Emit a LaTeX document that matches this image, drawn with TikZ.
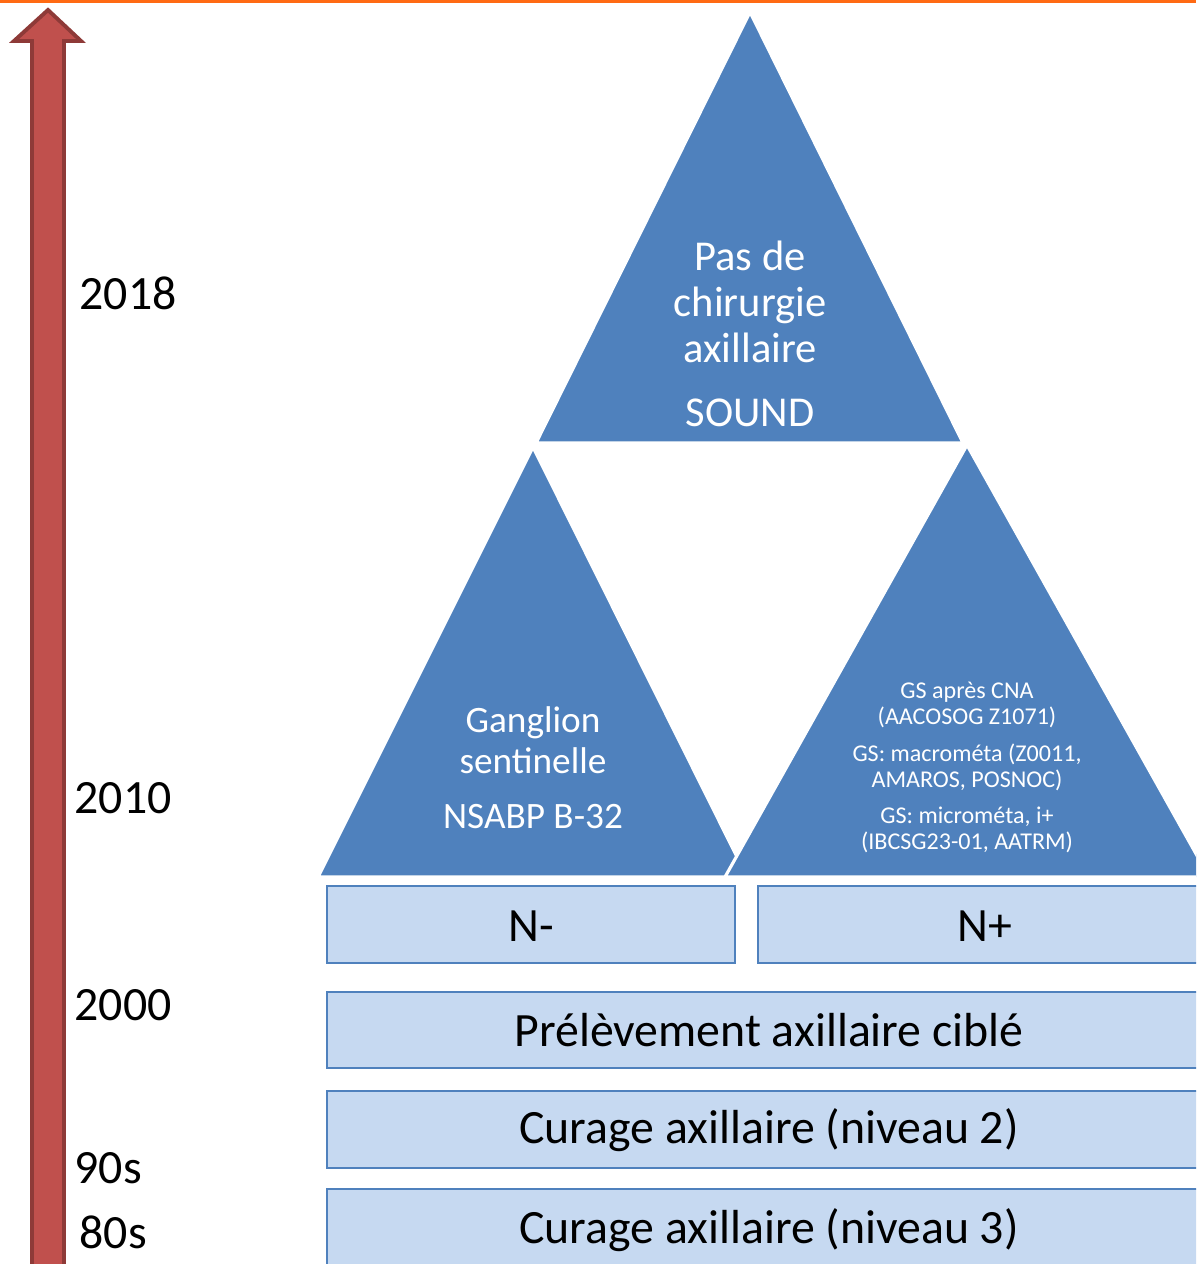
\documentclass[tikz,border=0pt]{standalone}
\usepackage{fontspec}
\setmainfont{Carlito}
\usetikzlibrary{positioning}
\definecolor{triblue}{HTML}{4F81BD}
\definecolor{boxfill}{HTML}{C6D9F1}
\definecolor{arrowred}{HTML}{C0504D}
\definecolor{arrowdark}{HTML}{8E3A38}
\definecolor{lineorange}{HTML}{FF6A13}
\begin{document}
\begin{tikzpicture}[x=0.1mm,y=-0.1mm,
  tri/.style={fill=triblue,draw=white,line width=0.9pt},
  box/.style={fill=boxfill,draw=triblue,line width=0.6pt},
  trilabel/.style={text=white,align=center,inner sep=0,font=\fontsize{12.1}{13.1}\selectfont},
  smalllabel/.style={text=white,align=center,inner sep=0,font=\fontsize{6.85}{7.4}\selectfont},
  boxlabel/.style={inner sep=0,font=\fontsize{13.6}{16}\selectfont},
  year/.style={anchor=west,inner sep=0,font=\fontsize{13.6}{16}\selectfont}]
\useasboundingbox (0,0) rectangle (1196,1264);
\clip (0,0) rectangle (1196,1264);
\pgfmathsetmacro{\boxleft}{327}
\pgfmathsetmacro{\boxright}{1212}
\draw[lineorange, line width=0.9pt] (0,1.5) -- (1196,1.5);
\draw[fill=arrowred, draw=arrowdark, line width=1.1pt] (48,10) -- (81,41) -- (64,41) -- (64,1290) -- (32,1290) -- (32,41) -- (14,41) -- cycle;
\node[year] (y2018) at (79,293) {2018};
\node[year] (y2010) at (74,798) {2010};
\node[year] (y2000) at (74,1005) {2000};
\node[year] (y90) at (74,1168) {90s};
\node[year] (y80) at (79,1232) {80s};
\draw[tri] (536,443) -- (750,12) -- (963,443) -- cycle;
\draw[tri] (318,877) -- (533,447) -- (747,877) -- cycle;
\draw[tri] (725,877) -- (967,445) -- (1209,877) -- cycle;
\node[trilabel] (pasde) at (750,302) {Pas de\\chirurgie\\axillaire};
\node[trilabel] (sound) at (750,413) {SOUND};
\node[trilabel, font=\fontsize{10.6}{11.7}\selectfont] (ganglion) at (533,740) {Ganglion\\sentinelle};
\node[trilabel, font=\fontsize{10.6}{11.7}\selectfont] (nsabp) at (533,817) {NSABP B-32};
\node[smalllabel] (cna) at (967,705) {GS après CNA\\(AACOSOG Z1071)};
\node[smalllabel] (macro) at (967,767) {GS: macrométa (Z0011,\\AMAROS, POSNOC)};
\node[smalllabel] (micro) at (967,830) {GS: microméta, i+\\(IBCSG23-01, AATRM)};
\draw[box] (\boxleft,886) rectangle (735,963);
\draw[box] (758,886) rectangle (\boxright,963);
\draw[box] (\boxleft,992) rectangle (\boxright,1068);
\draw[box] (\boxleft,1091) rectangle (\boxright,1168);
\draw[box] (\boxleft,1189) rectangle (\boxright,1290);
\node[boxlabel] (nneg) at (531,926) {N-};
\node[boxlabel] (npos) at (985,926) {N+};
\node[boxlabel] (prel) at (769,1030) {Prélèvement axillaire ciblé};
\node[boxlabel] (curage2) at (769,1130) {Curage axillaire (niveau 2)};
\node[boxlabel] (curage3) at (769,1230) {Curage axillaire (niveau 3)};
\end{tikzpicture}
\end{document}
